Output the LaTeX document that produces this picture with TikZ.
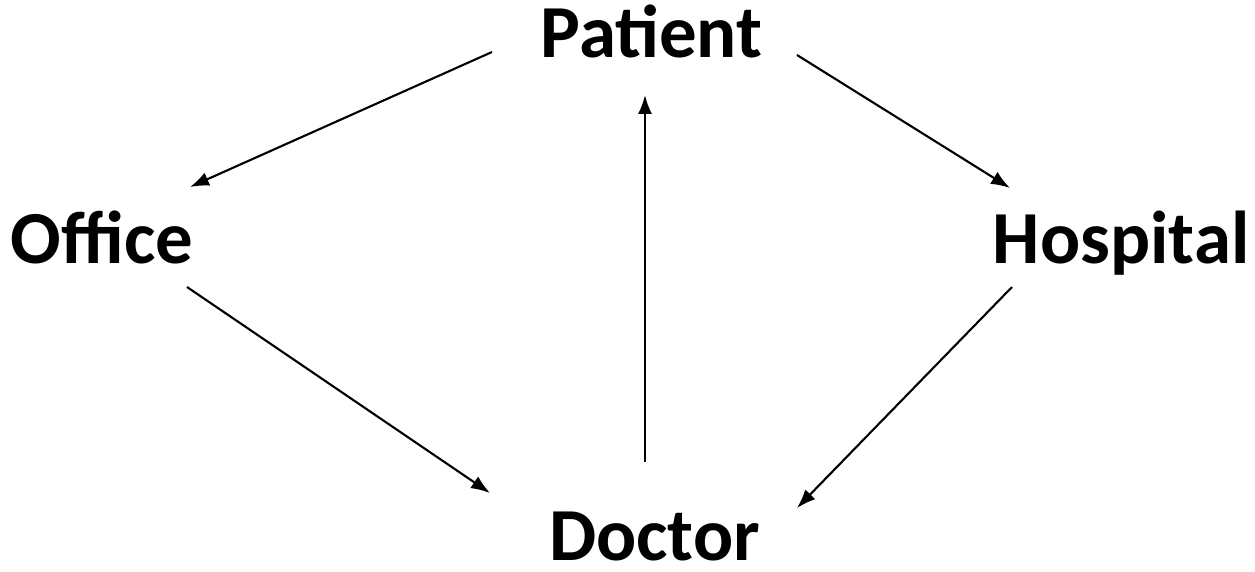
\documentclass[tikz,border=0pt]{standalone}
\usepackage{fontspec}
\setmainfont{Carlito}
\usetikzlibrary{arrows.meta}

\tikzset{
	place/.style={anchor=base, inner sep=0pt, font=\fontsize{21.3}{25}\selectfont\bfseries},
	link/.style={line width=0.6pt, -{Latex[length=5.4pt,width=4pt]}}
}

\begin{document}
\begin{tikzpicture}
		\useasboundingbox (0,0) rectangle (12.55,5.71);
		\node[place] (pat) at (6.515,5.13) {Patient};
		\node[place] (off) at (1.02,3.08) {Office};
		\node[place] (hos) at (11.21,3.08) {Hospital};
		\node[place] (doc) at (6.545,0.11) {Doctor};
		\draw[link] ([xshift=-1.595cm,yshift=0.06cm]pat.base) -- ([xshift=0.88cm,yshift=0.76cm]off.base);
		\draw[link] ([xshift=1.455cm,yshift=0.03cm]pat.base) -- ([xshift=-1.11cm,yshift=0.75cm]hos.base);
		\draw[link] ([xshift=0.85cm,yshift=-0.24cm]off.base) -- ([xshift=-1.645cm,yshift=0.67cm]doc.base);
		\draw[link] ([xshift=-1.09cm,yshift=-0.24cm]hos.base) -- ([xshift=1.425cm,yshift=0.52cm]doc.base);
		\draw[link] ([xshift=-0.095cm,yshift=0.98cm]doc.base) -- ([xshift=-0.065cm,yshift=-0.37cm]pat.base);
	\end{tikzpicture}
\end{document}
